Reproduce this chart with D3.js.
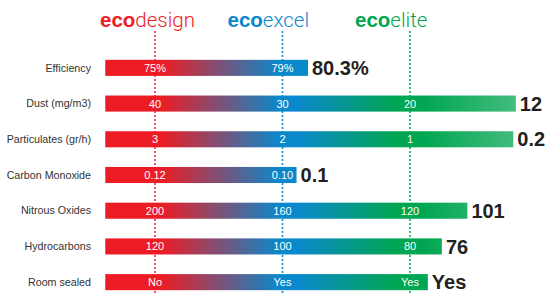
<!DOCTYPE html>
<html>
<head>
<meta charset="utf-8">
<title>eco range comparison</title>
<script src="https://d3js.org/d3.v7.min.js"></script>
<style>
  body { margin: 0; background: #fff; }
  text { font-family: "Liberation Sans", Arial, sans-serif; }
</style>
</head>
<body>
<div id="stage"></div>
<script>
// rows
var categories = ["Efficiency", "Dust (mg/m3)", "Particulates (gr/h)", "Carbon Monoxide", "Nitrous Oxides", "Hydrocarbons", "Room sealed"];
// values printed inside the bars, one list per model
var ecodesign = ["75%", "40", "3", "0.12", "200", "120", "No"];
var ecoexcel = ["79%", "30", "2", "0.10", "160", "100", "Yes"];
var ecoelite = [null, "20", "1", null, "120", "80", "Yes"];
// value of the new model, printed at the end of the bar
var newModel = ["80.3%", "12", "0.2", "0.1", "101", "76", "Yes"];
// where each bar ends, in model steps (0 = ecodesign, 1 = ecoexcel, 2 = ecoelite)
var barEnd = [1.2, 2.83, 2.81, 1.11, 2.45, 2.25, 2.14];
var barStart = -0.39;

var models = [
  { name: "design", step: 0, color: "#ed1c24", values: ecodesign },
  { name: "excel", step: 1, color: "#0a88cc", values: ecoexcel },
  { name: "elite", step: 2, color: "#00a651", values: ecoelite }
];

var width = 547, height = 294;

var svg = d3.select("#stage").append("svg")
  .attr("width", width)
  .attr("height", height);

var x = d3.scaleLinear().domain([0, 2]).range([155, 410]);
var y = d3.scaleBand().domain(categories).range([50, 300])
  .paddingInner(0.55).paddingOuter(0.275);

// gradient runs across the whole chart, not per bar
var grad = svg.append("defs").append("linearGradient")
  .attr("id", "barGrad")
  .attr("gradientUnits", "userSpaceOnUse")
  .attr("x1", 0).attr("x2", width).attr("y1", 0).attr("y2", 0);
[[x(0.05), "#ed1c24"], [x(0.98), "#0a88cc"], [x(1.12), "#0a88cc"], [x(1.9), "#00a651"], [x(2.1), "#00a651"], [x(2.85), "#45bd7d"]]
  .forEach(function(s) {
    grad.append("stop").attr("offset", s[0] / width).attr("stop-color", s[1]);
  });

// dotted guide lines
svg.selectAll(".guide")
  .data(models)
  .enter()
  .append("line")
    .attr("x1", function(d) { return x(d.step); })
    .attr("x2", function(d) { return x(d.step); })
    .attr("y1", 32)
    .attr("y2", 294)
    .attr("stroke", function(d) { return d.color; })
    .attr("stroke-width", 2)
    .attr("stroke-linecap", "round")
    .attr("stroke-dasharray", "0 4");

// model titles
var titles = svg.selectAll(".title")
  .data(models)
  .enter()
  .append("text")
    .attr("x", function(d) { return x(d.step) - 55; })
    .attr("y", 27)
    .attr("fill", function(d) { return d.color; })
    .style("font-size", "20.5px");
titles.append("tspan").attr("font-weight", "bold").text("eco");
titles.append("tspan").attr("font-weight", "300").attr("font-family", "Roboto").text(function(d) { return d.name; });

// bars
svg.selectAll(".bar")
  .data(categories)
  .enter()
  .append("rect")
    .attr("x", x(barStart))
    .attr("y", function(d) { return y(d); })
    .attr("width", function(d, i) { return x(barEnd[i]) - x(barStart); })
    .attr("height", y.bandwidth())
    .attr("fill", "url(#barGrad)");

// row labels
svg.selectAll(".cat")
  .data(categories)
  .enter()
  .append("text")
    .attr("x", 91)
    .attr("y", function(d) { return y(d) + y.bandwidth() / 2; })
    .attr("dy", "0.35em")
    .attr("text-anchor", "end")
    .attr("fill", "#333")
    .style("font-size", "10.7px")
    .text(function(d) { return d; });

// values inside the bars
models.forEach(function(m) {
  svg.selectAll(".v-" + m.name)
    .data(categories)
    .enter()
    .filter(function(d, i) { return m.values[i] != null; })
    .append("text")
      .attr("x", x(m.step))
      .attr("y", function(d) { return y(d) + y.bandwidth() / 2; })
      .attr("dy", "0.36em")
      .attr("text-anchor", "middle")
      .attr("fill", "#fff")
      .style("font-size", "11px")
      .text(function(d) { return m.values[categories.indexOf(d)]; });
});

// new model values at the bar ends
svg.selectAll(".end")
  .data(categories)
  .enter()
  .append("text")
    .attr("x", function(d, i) { return x(barEnd[i]) + 4; })
    .attr("y", function(d) { return y(d) + y.bandwidth() / 2; })
    .attr("dy", "0.36em")
    .attr("fill", "#231f20")
    .attr("font-weight", "bold")
    .style("font-size", "20px")
    .text(function(d, i) { return newModel[i]; });
</script>
</body>
</html>
